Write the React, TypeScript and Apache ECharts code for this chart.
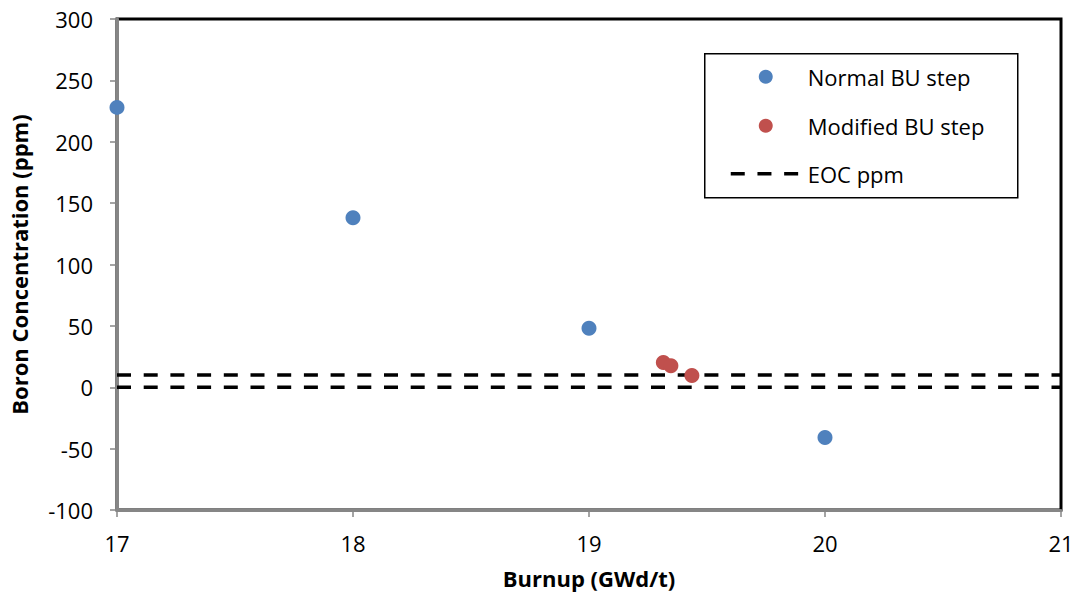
import React, { useEffect, useRef } from "react";
import * as echarts from "echarts";

const normalBU: [number, number][] = [
  [17, 228],
  [18, 138],
  [19, 48],
  [20, -41],
];
const modifiedBU: [number, number][] = [
  [19.315, 20.2],
  [19.347, 17.6],
  [19.436, 9.6],
];
const eocUpper: [number, number][] = [
  [17, 10],
  [21, 10],
];
const eocLower: [number, number][] = [
  [17, 0],
  [21, 0],
];
const legendLabels = ["Normal BU step", "Modified BU step", "EOC ppm"];
const xTitle = "Burnup (GWd/t)";
const yTitle = "Boron Concentration (ppm)";

const BLUE = "#4F81BD";
const RED = "#C0504D";
const FONT = "Open Sans";

export default function App() {
  const ref = useRef<HTMLDivElement>(null);
  useEffect(() => {
    if (!ref.current) return;
    const chart = echarts.init(ref.current, undefined, { renderer: "svg" });
    const dashed = {
      type: "line",
      showSymbol: false,
      symbol: "none",
      silent: true,
      lineStyle: { color: "#000", width: 3.5, type: [14, 12.7] },
      z: 1,
    };
    chart.setOption({
      animation: false,
      backgroundColor: "#fff",
      grid: {
        left: 116,
        top: 19,
        right: 18,
        bottom: 90,
        show: true,
        borderColor: "#000",
        borderWidth: 3,
      },
      xAxis: {
        type: "value",
        min: 17,
        max: 21,
        interval: 1,
        name: xTitle,
        nameLocation: "middle",
        nameGap: 57,
        nameTextStyle: { fontFamily: FONT, fontSize: 22, fontWeight: "bold", color: "#000" },
        axisLine: { show: true, onZero: false, lineStyle: { color: "#868686", width: 3 } },
        axisTick: { show: true, inside: false, length: 7, lineStyle: { color: "#868686", width: 1.5 } },
        axisLabel: { fontFamily: FONT, fontSize: 22, color: "#000", margin: 22 },
        splitLine: { show: false },
      },
      yAxis: {
        type: "value",
        min: -100,
        max: 300,
        interval: 50,
        name: yTitle,
        nameLocation: "middle",
        nameGap: 87,
        nameTextStyle: { fontFamily: FONT, fontSize: 22, fontWeight: "bold", color: "#000" },
        axisLine: { show: true, onZero: false, lineStyle: { color: "#868686", width: 3 } },
        axisTick: { show: true, inside: false, length: 7, lineStyle: { color: "#868686", width: 1.5 } },
        axisLabel: { fontFamily: FONT, fontSize: 22, color: "#000", margin: 24 },
        splitLine: { show: false },
      },
      series: [
        { ...dashed, name: "EOC ppm", data: eocUpper },
        { ...dashed, name: "EOC ppm lower", data: eocLower },
        {
          type: "scatter",
          name: legendLabels[0],
          data: normalBU,
          symbol: "circle",
          symbolSize: 15,
          itemStyle: { color: BLUE, opacity: 1 },
          z: 3,
        },
        {
          type: "scatter",
          name: legendLabels[1],
          data: modifiedBU,
          symbol: "circle",
          symbolSize: 15,
          itemStyle: { color: RED, opacity: 1 },
          z: 3,
        },
      ],
      graphic: [
        {
          type: "group",
          left: 704,
          top: 53,
          children: [
            {
              type: "rect",
              shape: { x: 0, y: 0, width: 313, height: 144 },
              style: { fill: "#fff", stroke: "#000", lineWidth: 1.5 },
            },
            { type: "circle", shape: { cx: 61, cy: 23, r: 7 }, style: { fill: BLUE } },
            { type: "circle", shape: { cx: 61, cy: 72, r: 7 }, style: { fill: RED } },
            {
              type: "line",
              shape: { x1: 26, y1: 120, x2: 95, y2: 120 },
              style: { stroke: "#000", lineWidth: 3.5, lineDash: [14, 12.7] },
            },
            {
              type: "text",
              x: 103,
              y: 23,
              style: { text: legendLabels[0], fontFamily: FONT, fontSize: 22, fill: "#000", verticalAlign: "middle" },
            },
            {
              type: "text",
              x: 103,
              y: 72,
              style: { text: legendLabels[1], fontFamily: FONT, fontSize: 22, fill: "#000", verticalAlign: "middle" },
            },
            {
              type: "text",
              x: 103,
              y: 120,
              style: { text: legendLabels[2], fontFamily: FONT, fontSize: 22, fill: "#000", verticalAlign: "middle" },
            },
          ],
        },
      ],
    });
    return () => chart.dispose();
  }, []);
  return <div ref={ref} style={{ width: 1079, height: 600, position: "absolute", left: 0, top: 0 }} />;
}
